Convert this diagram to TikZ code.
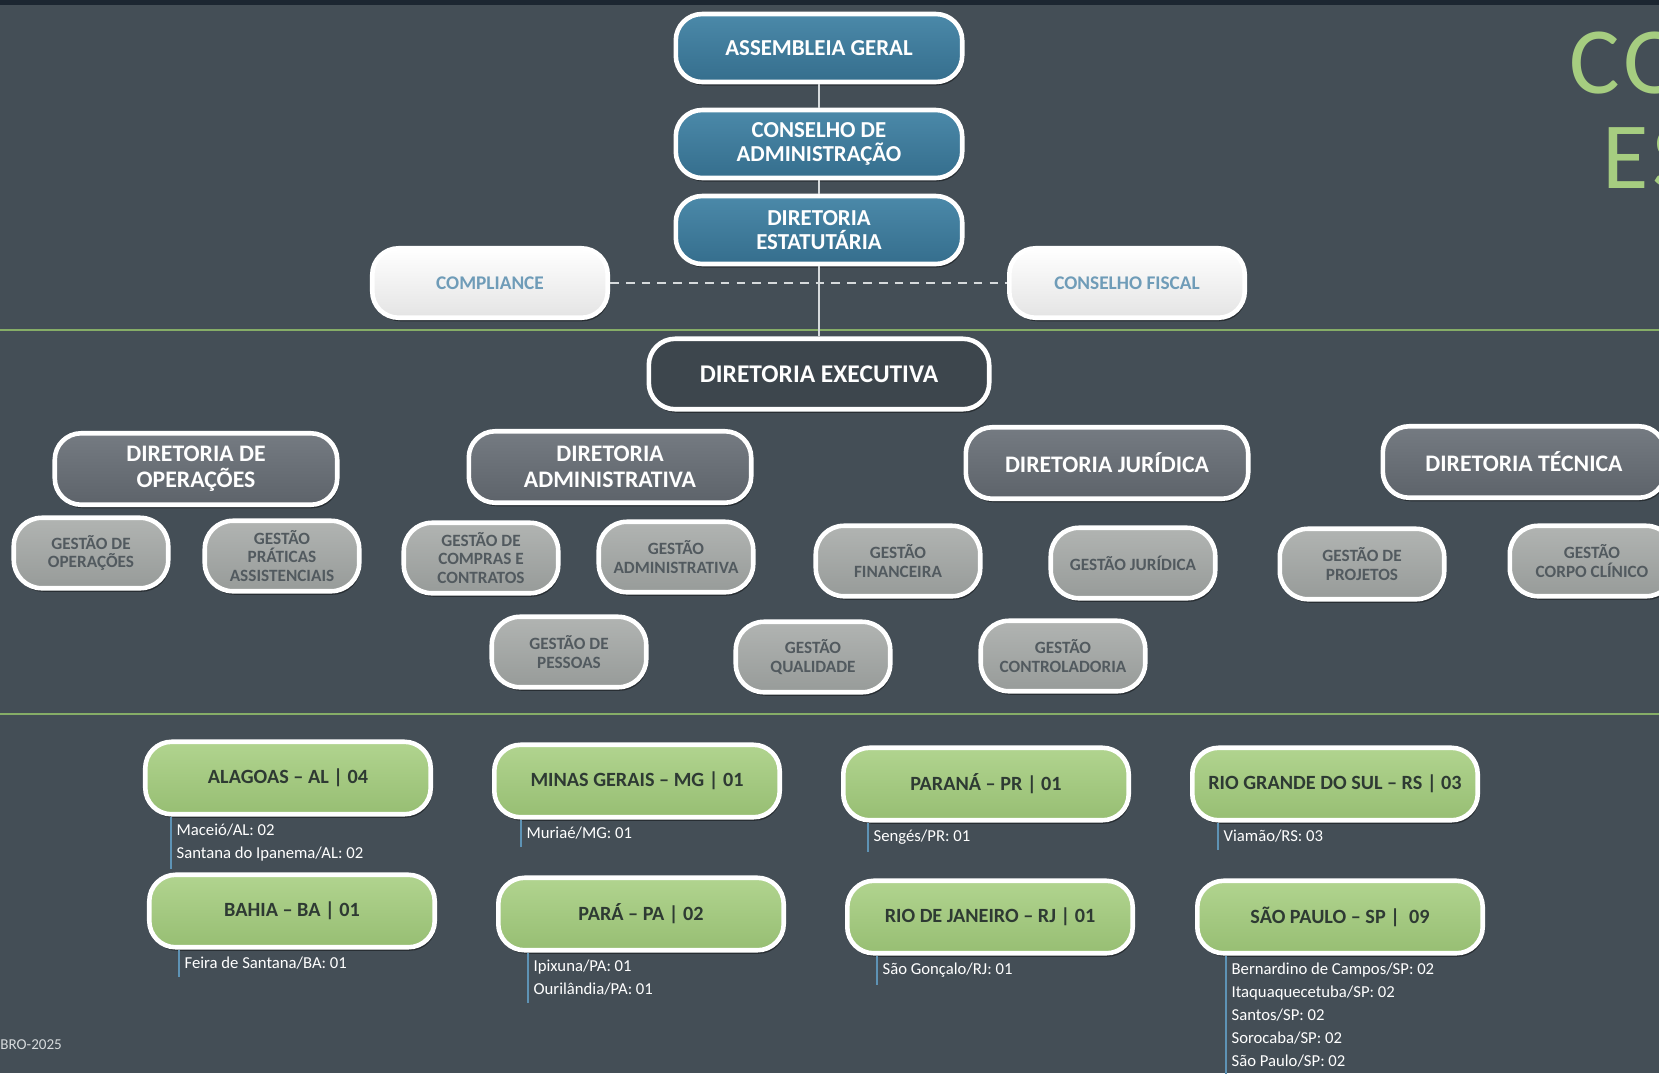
\documentclass[tikz,border=0pt]{standalone}
\usepackage{fontspec}
\setmainfont{Carlito}
\usepackage{tikz}
\usetikzlibrary{shadows}
\definecolor{fundo}{HTML}{444E56}
\definecolor{topo}{HTML}{1C2631}
\definecolor{azulA}{HTML}{4B89A9}
\definecolor{azulB}{HTML}{356E8D}
\definecolor{brancaB}{HTML}{E4E4E4}
\definecolor{brancaT}{HTML}{6F9CB8}
\definecolor{execF}{HTML}{3D464D}
\definecolor{dirA}{HTML}{757B82}
\definecolor{dirB}{HTML}{5D636A}
\definecolor{gesA}{HTML}{B1B4B2}
\definecolor{gesB}{HTML}{979B99}
\definecolor{gesT}{HTML}{525A5F}
\definecolor{verdeA}{HTML}{B1D48F}
\definecolor{verdeB}{HTML}{97BE73}
\definecolor{verdeT}{HTML}{2E3A33}
\definecolor{verdeL}{HTML}{86AD67}
\definecolor{cidadeL}{HTML}{5E93B5}
\definecolor{conL}{HTML}{D6DADC}
\definecolor{titulo}{HTML}{A6CD80}

\begin{document}
\begin{tikzpicture}[x=0.02cm,y=-0.02cm,
	caixa/.style={rounded corners=15pt,draw=white,line width=2.6pt,align=center,inner sep=3pt,
		drop shadow={shadow xshift=0.8pt,shadow yshift=-2pt,opacity=0.4,fill=black}},
	azul/.style={caixa,top color=azulA,bottom color=azulB,text=white,
		font=\fontsize{13}{14}\selectfont\bfseries,minimum width=5.73cm,minimum height=1.36cm},
	branca/.style={caixa,top color=white,bottom color=brancaB,text=brancaT,
		font=\fontsize{11}{12}\selectfont\bfseries,minimum width=4.71cm,minimum height=1.39cm},
	executiva/.style={caixa,fill=execF,text=white,
		font=\fontsize{14.5}{16}\selectfont\bfseries,minimum width=6.81cm,minimum height=1.41cm},
	diretoria/.style={caixa,top color=dirA,bottom color=dirB,text=white,
		font=\fontsize{13.5}{15}\selectfont\bfseries,minimum width=5.65cm,minimum height=1.43cm},
	gestao/.style={caixa,top color=gesA,bottom color=gesB,text=gesT,rounded corners=16pt,
		font=\fontsize{9.8}{10.5}\selectfont\bfseries,minimum width=3.09cm,minimum height=1.41cm},
	larga/.style={gestao,minimum width=3.29cm},
	estado/.style={caixa,top color=verdeA,bottom color=verdeB,text=verdeT,
		font=\fontsize{11.5}{13}\selectfont\bfseries,minimum width=5.71cm,minimum height=1.45cm},
	cidades/.style={anchor=north west,align=left,inner xsep=3pt,inner ysep=4pt,text=white,
		font=\fontsize{9.5}{13}\selectfont},
	linhacidade/.style={draw=cidadeL,line width=1.2pt},
	conector/.style={draw=conL,line width=1.3pt},
	tracejado/.style={conector,dashed,dash pattern=on 5pt off 4pt},
	separador/.style={draw=verdeL,line width=1.4pt},
	letreiro/.style={anchor=base west,text=titulo,inner sep=0pt,
		font=\fontsize{54}{60}\selectfont\addfontfeature{LetterSpace=5}}]
	\useasboundingbox (0,0) rectangle (1659,1073);
	\clip (0,0) rectangle (1659,1073);
	\fill[fundo] (0,0) rectangle (1659,1073);
	\fill[topo] (0,0) rectangle (1659,5);
	\draw[separador] (0,330) -- (1659,330);
	\draw[separador] (0,714) -- (1659,714);

	\node[letreiro] (tco) at (1569,93) {CO};
	\node[letreiro] (tes) at (1602,188) {ES};
	\node[anchor=west,inner sep=0pt,text=conL,font=\fontsize{8.6}{10}\selectfont] (data) at (0,1045) {BRO-2025};

	\node[azul] (asm) at (819,48) {ASSEMBLEIA GERAL};
	\node[azul] (cadm) at (819,144) {CONSELHO DE\\ADMINISTRAÇÃO};
	\node[azul] (dest) at (819,230) {DIRETORIA\\ESTATUTÁRIA};
	\node[branca] (comp) at (490,283) {COMPLIANCE};
	\node[branca] (cfis) at (1127,283) {CONSELHO FISCAL};
	\node[executiva] (dexe) at (819,374) {DIRETORIA EXECUTIVA};

	\draw[conector] (asm) -- (cadm);
	\draw[conector] (cadm) -- (dest);
	\draw[conector] (dest) -- (dexe);
	\draw[tracejado] (comp) -- (cfis);

	\node[diretoria] (dope) at (196,469) {DIRETORIA DE\\OPERAÇÕES};
	\node[diretoria] (dadm) at (610,467) {DIRETORIA\\ADMINISTRATIVA};
	\node[diretoria] (djur) at (1107,463) {DIRETORIA JURÍDICA};
	\node[diretoria] (dtec) at (1524,462) {DIRETORIA TÉCNICA};

	\node[gestao] (gope) at (91,553) {GESTÃO DE\\OPERAÇÕES};
	\node[gestao] (gpra) at (282,556) {GESTÃO\\PRÁTICAS\\ASSISTENCIAIS};
	\node[gestao] (gcom) at (481,558) {GESTÃO DE\\COMPRAS E\\CONTRATOS};
	\node[gestao] (gadm) at (676,557) {GESTÃO\\ADMINISTRATIVA};
	\node[larga] (gfin) at (898,561) {GESTÃO\\FINANCEIRA};
	\node[larga] (gjur) at (1133,563) {GESTÃO JURÍDICA};
	\node[larga] (gpro) at (1362,564) {GESTÃO DE\\PROJETOS};
	\node[larga] (gcor) at (1592,561) {GESTÃO\\CORPO CLÍNICO};
	\node[gestao] (gpes) at (569,652) {GESTÃO DE\\PESSOAS};
	\node[gestao] (gqua) at (813,657) {GESTÃO\\QUALIDADE};
	\node[larga] (gcon) at (1063,656) {GESTÃO\\CONTROLADORIA};

	\node[estado] (al) at (288,778) {ALAGOAS – AL | 04};
	\node[estado] (mg) at (637,781) {MINAS GERAIS – MG | 01};
	\node[estado] (pr) at (986,784) {PARANÁ – PR | 01};
	\node[estado] (rs) at (1335,784) {RIO GRANDE DO SUL – RS | 03};
	\node[estado] (ba) at (292,911) {BAHIA – BA | 01};
	\node[estado] (pa) at (641,914) {PARÁ – PA | 02};
	\node[estado] (rj) at (990,917) {RIO DE JANEIRO – RJ | 01};
	\node[estado] (sp) at (1340,917) {SÃO PAULO – SP |\ \ 09};

	\node[cidades] (alc) at (171,817) {Maceió/AL: 02\\Santana do Ipanema/AL: 02};
	\node[cidades] (mgc) at (521,820) {Muriaé/MG: 01};
	\node[cidades] (prc) at (868,823) {Sengés/PR: 01};
	\node[cidades] (rsc) at (1218,823) {Viamão/RS: 03};
	\node[cidades] (bac) at (179,950) {Feira de Santana/BA: 01};
	\node[cidades] (pac) at (528,953) {Ipixuna/PA: 01\\Ourilândia/PA: 01};
	\node[cidades] (rjc) at (877,956) {São Gonçalo/RJ: 01};
	\node[cidades] (spc) at (1226,956) {Bernardino de Campos/SP: 02\\Itaquaquecetuba/SP: 02\\Santos/SP: 02\\Sorocaba/SP: 02\\São Paulo/SP: 02};
	\foreach \c in {alc,mgc,prc,rsc,bac,pac,rjc,spc}
		\draw[linhacidade] (\c.north west) -- (\c.south west);
\end{tikzpicture}
\end{document}
